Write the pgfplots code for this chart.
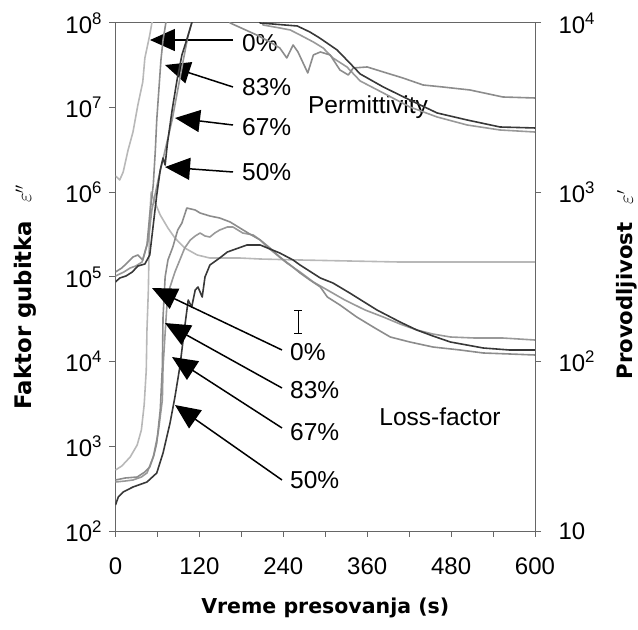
\documentclass[border=0pt]{standalone}
\usepackage{fontspec}
\setmainfont{Liberation Sans}
\newfontfamily\titlefont{DejaVu Sans}
\usepackage{pgfplots}
\pgfplotsset{compat=1.18}
\usetikzlibrary{arrows.meta}

\definecolor{c0}{gray}{0.72}
\definecolor{c83}{gray}{0.55}
\definecolor{c67}{gray}{0.60}
\definecolor{c50}{gray}{0.22}
\definecolor{axisgray}{gray}{0.40}

\newcommand\tickfont{\fontsize{24}{28}\selectfont}
\newcommand\notefont{\fontsize{24.5}{29}\selectfont}
\newcommand\titlesize{\fontsize{20.5}{24}\selectfont}
\tikzset{seriesline/.style={line width=1.6pt, line join=round}}

\begin{document}
\begin{tikzpicture}
% loss factor, left axis
\begin{axis}[name=main,
  scale only axis, width=419.5pt, height=508pt,
  xmin=0, xmax=600,
  ymode=log, ymin=1e2, ymax=1e8,
  yminorticks=false,
  tick align=outside, major tick length=6pt, minor tick length=6pt,
  axis line style={axisgray, line width=1pt},
  tick style={axisgray, line width=1pt},
  tick label style={font=\tickfont},
  xtick={0,120,...,600}, xticklabels={0,120,240,360,480,600},
  minor x tick num=1,
  xtick pos=left, ytick pos=left,
  ytick={1e2,1e3,1e4,1e5,1e6,1e7,1e8},
  yticklabels={10\textsuperscript{2},10\textsuperscript{3},10\textsuperscript{4},10\textsuperscript{5},10\textsuperscript{6},10\textsuperscript{7},10\textsuperscript{8}},
  xticklabel style={yshift=-17pt},
  yticklabel style={xshift=-4pt},
  xlabel={\titlefont\bfseries\titlesize Vreme presovanja (s)},
  xlabel style={at={(rel axis cs:0.5,-0.1516)}, anchor=center},
  ylabel={\titlefont\bfseries\fontsize{22.8}{26}\selectfont Faktor gubitka\hspace{18pt}{\fontsize{22}{24}\selectfont$\varepsilon''$}},
  ylabel style={at={(rel axis cs:-0.2157,0.4606)}, anchor=center},
]
\addplot[seriesline, c0] coordinates {
 (0,525.4)(9,585.9)(21,748.2)(31,1037)(37,1559)(41,3078)(44,7969)(45,23650)
 (47,70210)(48,208400)(49,539800)(51,1.009e6)(55,8.117e5)(64,5.398e5)
 (75,3.789e5)(85,2.887e5)(99,2.2e5)(117,1.819e5)(135,1.676e5)(178,1.676e5)
 (207,1.631e5)(264,1.588e5)(335,1.545e5)(407,1.503e5)(479,1.503e5)(600,1.503e5)};
\addplot[seriesline, c67] coordinates {
 (0,379.1)(14,389.6)(25,400.3)(37,434.3)(45,484.2)(54,748.2)(61,1437)(67,3525)
 (68,8648)(71,21800)(74,53480)(78,76160)(85,114500)(92,158800)(99,220000)
 (107,273400)(114,304900)(121,330800)(128,304900)(135,296700)(142,330800)
 (149,358900)(160,389400)(168,389400)(182,330800)(197,313300)(207,273400)
 (217,226100)(231,181900)(245,146300)(264,114500)(283,87270)(303,70210)
 (328,53480)(357,40750)(383,33690)(407,27850)(431,23650)(454,21210)
 (479,19560)(514,19030)(554,19030)(600,18020)};
\addplot[seriesline, c83] coordinates {
 (0,400.3)(14,422.7)(31,434.3)(42,497.6)(49,570.1)(55,790.0)(59,1095)(64,2687)
 (67,8648)(68,33690)(71,100000)(75,158800)(82,226100)(89,358900)(95,434200)
 (102,652800)(114,618300)(121,569800)(135,525400)(149,497500)(164,446200)
 (178,378900)(192,321900)(207,273400)(221,220000)(235,172200)(250,138500)
 (264,111400)(278,92130)(293,76160)(303,58030)(321,46700)(345,33690)
 (371,24970)(393,19560)(421,17070)(454,14900)(493,13730)(526,12660)
 (564,12320)(600,11990)};
\addplot[seriesline, c50] coordinates {
 (0,202.9)(4,252.1)(11,288.8)(25,330.9)(45,379.1)(59,484.2)(68,834.0)(78,1886)
 (85,3824)(92,8648)(99,25660)(104,53480)(109,44220)(114,70210)(118,76160)
 (124,58030)(128,100000)(135,138500)(149,167600)(160,197300)(168,208400)
 (188,238700)(207,238700)(221,214100)(235,192000)(254,158800)(264,138500)
 (293,97300)(311,84940)(335,64700)(374,40750)(407,29400)(431,23650)
 (454,20100)(479,17070)(526,14500)(564,13730)(600,13730)};

% series labels and pointers
\begin{scope}[line width=1.5pt, -{Triangle[length=25pt,width=22pt]}]
  \draw (rel axis cs:0.2801,0.9665) -- (rel axis cs:0.0822,0.9665);
  \draw (rel axis cs:0.2801,0.8740) -- (rel axis cs:0.1180,0.9173);
  \draw (rel axis cs:0.2801,0.7992) -- (rel axis cs:0.1418,0.8130);
  \draw (rel axis cs:0.2801,0.7067) -- (rel axis cs:0.1180,0.7165);
  \draw (rel axis cs:0.3969,0.3563) -- (rel axis cs:0.0870,0.4783);
  \draw (rel axis cs:0.3969,0.2815) -- (rel axis cs:0.1180,0.4094);
  \draw (rel axis cs:0.3969,0.2028) -- (rel axis cs:0.1347,0.3425);
  \draw (rel axis cs:0.3969,0.1004) -- (rel axis cs:0.1418,0.2480);
\end{scope}
\node[font=\notefont, anchor=west, inner sep=0pt] at (rel axis cs:0.3015,0.9606) {0\%};
\node[font=\notefont, anchor=west, inner sep=0pt] at (rel axis cs:0.3015,0.8740) {83\%};
\node[font=\notefont, anchor=west, inner sep=0pt] at (rel axis cs:0.3015,0.7953) {67\%};
\node[font=\notefont, anchor=west, inner sep=0pt] at (rel axis cs:0.3015,0.7067) {50\%};
\node[font=\notefont, anchor=west, inner sep=0pt] at (rel axis cs:0.4160,0.3524) {0\%};
\node[font=\notefont, anchor=west, inner sep=0pt] at (rel axis cs:0.4160,0.2776) {83\%};
\node[font=\notefont, anchor=west, inner sep=0pt] at (rel axis cs:0.4160,0.1949) {67\%};
\node[font=\notefont, anchor=west, inner sep=0pt] at (rel axis cs:0.4160,0.1004) {50\%};
\node[font=\notefont, inner sep=0pt] at (rel axis cs:0.6018,0.8346) {Permittivity};
\node[font=\notefont, inner sep=0pt] at (rel axis cs:0.7735,0.2244) {Loss-factor};
% text cursor
\draw[line width=0.8pt] (rel axis cs:0.4350,0.3890) -- (rel axis cs:0.4350,0.4350)
  (rel axis cs:0.4255,0.3890) -- (rel axis cs:0.4445,0.3890)
  (rel axis cs:0.4255,0.4350) -- (rel axis cs:0.4445,0.4350);
\end{axis}

% permittivity, right axis
\begin{axis}[
  scale only axis, width=419.5pt, height=508pt,
  xmin=0, xmax=600,
  ymode=log, ymin=10, ymax=1e4,
  yminorticks=false,
  tick align=outside, major tick length=6pt,
  axis line style={axisgray, line width=1pt},
  tick style={axisgray, line width=1pt},
  tick label style={font=\tickfont},
  axis x line=none, axis y line*=right,
  y axis line style={-},
  ytick={10,100,1000,10000},
  yticklabels={10,10\textsuperscript{2},10\textsuperscript{3},10\textsuperscript{4}},
  yticklabel style={xshift=14pt},
  ylabel={\titlefont\bfseries\fontsize{21.2}{24}\selectfont Provodljivost\hspace{18pt}{\fontsize{22}{24}\selectfont$\varepsilon'$}},
  ylabel style={at={(rel axis cs:1.2193,0.4843)}, anchor=center},
]
\addplot[seriesline, c0] coordinates {
 (0,1250)(6,1183)(11,1318)(18,1778)(25,2271)(32,3281)(39,4484)(42,6209)
 (49,8492)(52,10000)(58,11940)(66,13500)(80,15000)};
\addplot[seriesline, c67] coordinates {
 (0,320.5)(12,338.5)(21,357.5)(29,367.3)(38,387.8)(47,523.0)(52,786.6)(61,1183)
 (71,1778)(81,2674)(89,4021)(97,6046)(104,8494)(109,10000)(115,11500)
 (204,11500)(211,9732)(235,9344)(250,9093)(264,8494)(283,7723)(297,7118)
 (311,6216)(331,5499)(350,4545)(383,3861)(421,3192)(460,2786)(503,2498)
 (550,2334)(600,2271)};
\addplot[seriesline, c83] coordinates {
 (0,338.5)(9,357.5)(18,387.8)(25,415.0)(32,426.6)(39,398.5)(45,488.7)(49,734.8)
 (54,1105)(57,1778)(59,2674)(62,4021)(65,6046)(68,7936)(72,10000)(78,11500)
 (157,11500)(164,10000)(202,8494)(221,7723)(235,7118)(245,6216)(254,7418)
 (261,6743)(275,5068)(283,6475)(293,6743)(307,6475)(321,5279)(333,4932)
 (340,5424)(360,5499)(383,5137)(411,4735)(440,4304)(468,4189)(507,4021)
 (554,3656)(600,3607)};
\addplot[seriesline, c50] coordinates {
 (0,295.5)(6,311.8)(15,320.5)(24,338.5)(32,367.3)(42,377.4)(49,426.6)(54,641.6)
 (59,964.5)(64,1355)(68,1595)(71,1450)(74,1904)(81,3065)(88,4608)(95,6475)
 (104,8494)(109,10000)(115,11500)(200,11500)(207,10000)(260,9601)(278,8849)
 (292,8156)(317,6927)(335,5805)(350,4999)(383,4189)(421,3510)(460,2942)
 (503,2674)(550,2431)(600,2399)};
\end{axis}

\pgfresetboundingbox
\path[use as bounding box] ([xshift=-115.5pt,yshift=-98pt]main.south west)
  rectangle ([xshift=103pt,yshift=23pt]main.north east);
\end{tikzpicture}
\end{document}
